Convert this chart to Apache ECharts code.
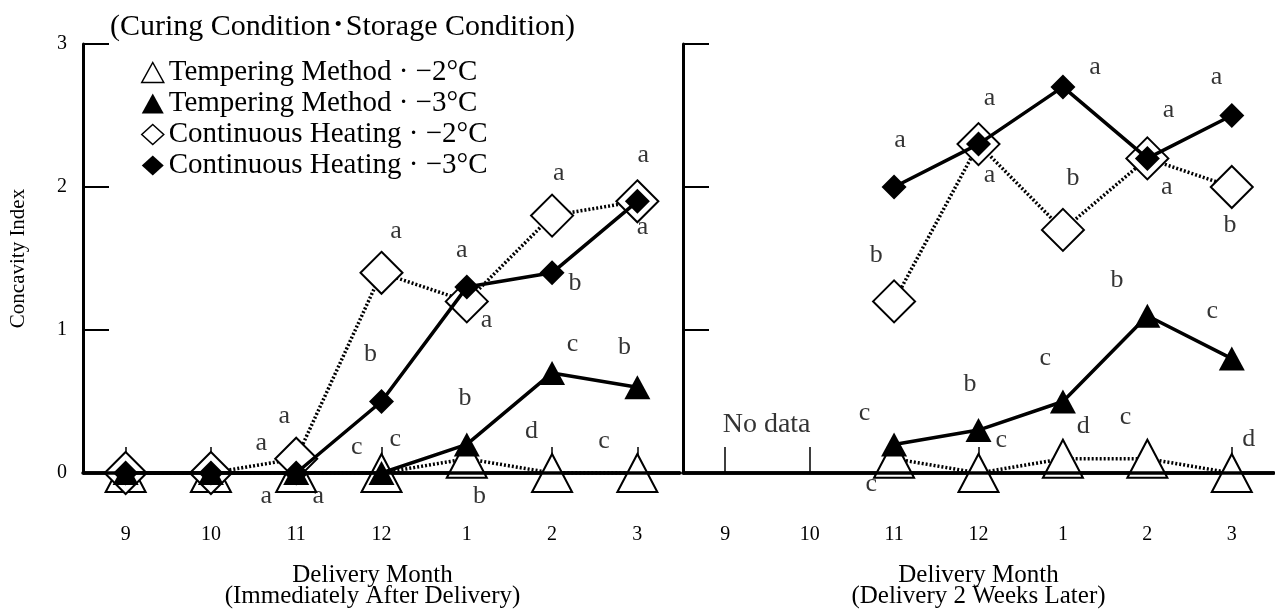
<!DOCTYPE html>
<html>
<head>
<meta charset="utf-8">
<script src="https://cdn.jsdelivr.net/npm/echarts@6/dist/echarts.min.js"></script>
<style>
  html, body { margin: 0; padding: 0; background: #fff; }
  #chart { width: 1275px; height: 609px; }
</style>
</head>
<body>
<div id="chart"></div>
<script>
// ---- data ----
const months = ['9', '10', '11', '12', '1', '2', '3'];
const seriesNames = [
  'Tempering Method \u00B7 \u22122°C',
  'Tempering Method \u00B7 \u22123°C',
  'Continuous Heating \u00B7 \u22122°C',
  'Continuous Heating \u00B7 \u22123°C'
];
// Immediately after delivery
const tempM2After = [0, 0, 0, 0, 0.1, 0, 0];
const tempM3After = [0, 0, 0, 0, 0.2, 0.7, 0.6];
const contM2After = [0, 0, 0.1, 1.4, 1.2, 1.8, 1.9];
const contM3After = [0, 0, 0, 0.5, 1.3, 1.4, 1.9];
// Delivery 2 weeks later
const tempM2Later = [null, null, 0.1, 0, 0.1, 0.1, 0];
const tempM3Later = [null, null, 0.2, 0.3, 0.5, 1.1, 0.8];
const contM2Later = [null, null, 1.2, 2.3, 1.7, 2.2, 2.0];
const contM3Later = [null, null, 2.0, 2.3, 2.7, 2.2, 2.5];
// significance letters: [month index position, value position, text]
const lettersAfter = [
  [1.59, 0.21, 'a'], [1.86, 0.40, 'a'], [1.65, -0.16, 'a'], [2.26, -0.16, 'a'],
  [2.71, 0.18, 'c'], [3.16, 0.24, 'c'], [2.87, 0.83, 'b'], [3.17, 1.69, 'a'],
  [3.94, 1.56, 'a'], [4.23, 1.07, 'a'], [3.98, 0.52, 'b'], [4.15, -0.16, 'b'],
  [5.08, 2.10, 'a'], [5.27, 1.33, 'b'], [4.76, 0.29, 'd'], [5.24, 0.90, 'c'],
  [6.07, 2.22, 'a'], [6.06, 1.72, 'a'], [5.85, 0.88, 'b'], [5.61, 0.22, 'c']
];
const lettersLater = [
  [1.65, 0.42, 'c'], [1.73, -0.08, 'c'], [2.90, 0.62, 'b'], [3.27, 0.23, 'c'],
  [3.79, 0.80, 'c'], [4.24, 0.33, 'd'], [4.64, 1.35, 'b'], [4.74, 0.39, 'c'],
  [5.77, 1.13, 'c'], [6.20, 0.24, 'd'],
  [2.07, 2.33, 'a'], [3.13, 2.62, 'a'], [3.13, 2.08, 'a'], [4.38, 2.84, 'a'],
  [4.12, 2.06, 'b'], [5.25, 2.54, 'a'], [5.23, 2.00, 'a'], [5.82, 2.77, 'a'],
  [5.98, 1.73, 'b'], [1.79, 1.52, 'b']
];
const noDataNote = [[0.49, 0.34, 'No data']];
const yTitle = 'Concavity Index';
const xTitleAfter = 'Delivery Month\n(Immediately After Delivery)';
const xTitleLater = 'Delivery Month\n(Delivery 2 Weeks Later)';
const headerText = '(Curing Condition\uFF65Storage Condition)';

// ---- styling ----
const FONT = "'Liberation Serif', 'Times New Roman', 'Noto Sans CJK JP', serif";
const styles = [
  { symbol: 'triangle', symbolSize: [40, 38], itemStyle: { color: '#fff', borderColor: '#000', borderWidth: 2 },
    lineStyle: { color: '#000', width: 3.5, type: [2, 2] }, z: 2 },
  { symbol: 'triangle', symbolSize: [26, 24], itemStyle: { color: '#000', borderColor: '#000', borderWidth: 0 },
    lineStyle: { color: '#000', width: 3.5, type: 'solid' }, z: 4 },
  { symbol: 'diamond', symbolSize: [42, 42], itemStyle: { color: '#fff', borderColor: '#000', borderWidth: 2 },
    lineStyle: { color: '#000', width: 3.5, type: [2, 2] }, z: 3 },
  { symbol: 'diamond', symbolSize: [25, 25], itemStyle: { color: '#000', borderColor: '#000', borderWidth: 0 },
    lineStyle: { color: '#000', width: 3.5, type: 'solid' }, z: 5 }
];
const legendIcons = [
  { icon: 'triangle', itemStyle: { color: '#fff', borderColor: '#000', borderWidth: 1.5 } },
  { icon: 'triangle', itemStyle: { color: '#000', borderColor: '#000', borderWidth: 0 } },
  { icon: 'diamond', itemStyle: { color: '#fff', borderColor: '#000', borderWidth: 1.5 } },
  { icon: 'diamond', itemStyle: { color: '#000', borderColor: '#000', borderWidth: 0 } }
];

function lineSeries(idx, data, xAxisIndex, yAxisIndex) {
  const s = styles[idx];
  return {
    type: 'line', name: seriesNames[idx], data: data,
    xAxisIndex: xAxisIndex, yAxisIndex: yAxisIndex,
    symbol: s.symbol, symbolSize: s.symbolSize, showAllSymbol: true,
    itemStyle: s.itemStyle, lineStyle: s.lineStyle, z: s.z,
    emphasis: { disabled: true }, animation: false
  };
}
function letterSeries(list, xAxisIndex, yAxisIndex, size, withBaseline) {
  const s = {
    type: 'scatter', data: list, xAxisIndex: xAxisIndex, yAxisIndex: yAxisIndex,
    symbolSize: 0, clip: false, z: 10, silent: true, animation: false,
    itemStyle: { color: 'transparent' },
    label: { show: true, position: 'inside', formatter: p => p.data[2],
      fontSize: size, fontFamily: FONT, color: '#000' }
  };
  if (withBaseline) {
    s.markLine = {
      silent: true, symbol: ['none', 'none'], animation: false,
      label: { show: false },
      lineStyle: { color: '#000', width: 3.5, type: 'solid' },
      data: [{ yAxis: 0 }]
    };
  }
  return s;
}
function catAxis(gridIndex, name, namePad) {
  return {
    type: 'category', gridIndex: gridIndex, data: months, boundaryGap: true,
    axisLine: { show: true, onZero: false, lineStyle: { color: '#000', width: 3.5 } },
    axisTick: { show: true, inside: true, length: 26, alignWithLabel: true, lineStyle: { color: '#000', width: 1.5 } },
    axisLabel: { margin: 52, fontSize: 20, fontFamily: FONT, color: '#000' },
    splitLine: { show: false },
    name: name, nameLocation: 'middle', nameGap: 92,
    nameTextStyle: { fontSize: 25, fontFamily: FONT, color: '#000', lineHeight: 21, padding: namePad }
  };
}
function valAxisHidden(gridIndex) {
  return { type: 'value', gridIndex: gridIndex, min: -0.5, max: 6.5, show: false };
}
function yAxis(gridIndex, showLabels, name) {
  return {
    type: 'value', gridIndex: gridIndex, min: 0, max: 3, interval: 1,
    axisLine: { show: true, onZero: false, lineStyle: { color: '#000', width: 3 } },
    axisTick: { show: true, inside: true, length: 26, lineStyle: { color: '#000', width: 2 } },
    axisLabel: { show: showLabels, margin: 16, fontSize: 20, fontFamily: FONT, color: '#000' },
    splitLine: { show: false },
    name: name, nameLocation: 'middle', nameGap: 54,
    nameTextStyle: { fontSize: 21, fontFamily: FONT, color: '#000' }
  };
}

const chart = echarts.init(document.getElementById('chart'), null, { renderer: 'canvas' });
chart.setOption({
  backgroundColor: '#fff',
  animation: false,
  title: { text: headerText, left: 105, top: 7,
    textStyle: { fontSize: 30, fontWeight: 'normal', fontFamily: FONT, color: '#000' } },
  legend: {
    orient: 'vertical', left: 136, top: 53, itemGap: 2, itemWidth: 22, itemHeight: 20,
    selectedMode: false,
    textStyle: { fontSize: 29, fontFamily: FONT, color: '#000' },
    data: seriesNames.map((n, i) => Object.assign({ name: n }, legendIcons[i]))
  },
  grid: [
    { left: 83, top: 44, width: 597, height: 429, outerBoundsMode: 'none', containLabel: false },
    { left: 683, top: 44, width: 591, height: 429, outerBoundsMode: 'none', containLabel: false }
  ],
  xAxis: [
    catAxis(0, xTitleAfter, [0, 18, 0, 0]),
    valAxisHidden(0),
    catAxis(1, xTitleLater, [0, 0, 0, 0]),
    valAxisHidden(1)
  ],
  yAxis: [
    yAxis(0, true, yTitle),
    yAxis(1, false, '')
  ],
  series: [
    lineSeries(0, tempM2After, 0, 0),
    lineSeries(2, contM2After, 0, 0),
    lineSeries(1, tempM3After, 0, 0),
    lineSeries(3, contM3After, 0, 0),
    lineSeries(0, tempM2Later, 2, 1),
    lineSeries(2, contM2Later, 2, 1),
    lineSeries(1, tempM3Later, 2, 1),
    lineSeries(3, contM3Later, 2, 1),
    letterSeries(lettersAfter, 1, 0, 26, true),
    letterSeries(lettersLater, 3, 1, 26, true),
    letterSeries(noDataNote, 3, 1, 28, false)
  ]
});
</script>
</body>
</html>
